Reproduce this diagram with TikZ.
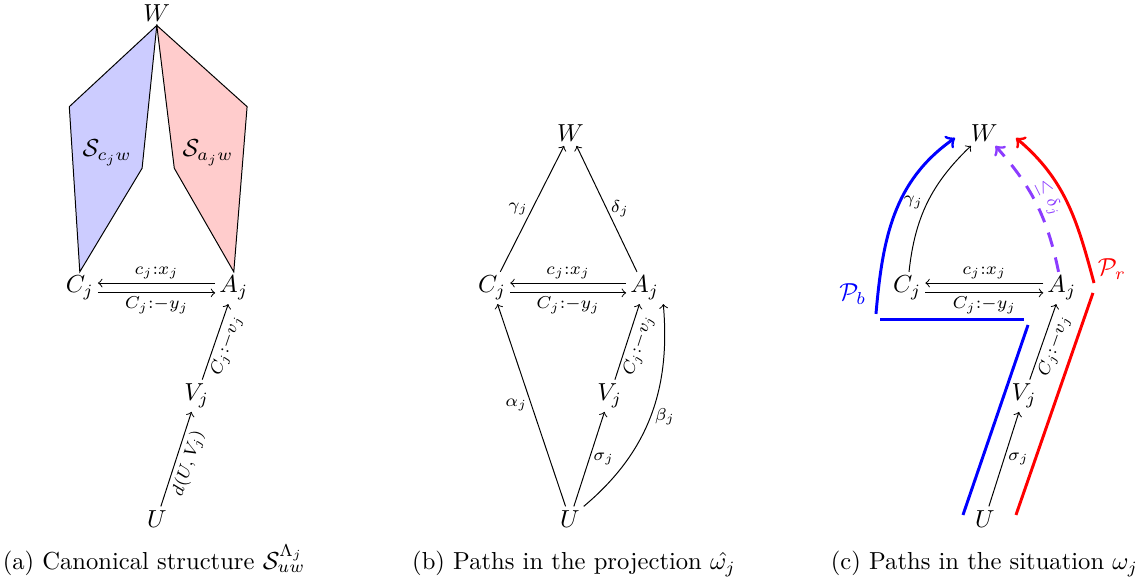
\documentclass[tikz,border=0pt]{standalone}
\usepackage{amsmath}
\usepackage{amssymb}
\usepackage[svgnames,dvipsnames]{xcolor}
\usetikzlibrary{arrows, positioning, calc}

\definecolor{boundviolet}{RGB}{140,60,255}

\begin{document}
\begin{tikzpicture}[
    vertex/.style={inner sep=1.5pt},
    lbl/.style={font=\scriptsize, inner sep=1.5pt},
    arrow/.style={->},
    region/.style={draw=black},
    bluepath/.style={very thick, blue},
    redpath/.style={very thick, red},
    boundpath/.style={->, very thick, boundviolet, dash pattern=on 6pt off 4.5pt},
    caption/.style={anchor=base}
]
    \useasboundingbox (0,0) rectangle (16.343,8.314);

    \node (Wa) [vertex] at (2.24,8.13) {$W$};
    \node (Ca) [vertex] at (1.14,4.2) {$C_j$};
    \node (Aa) [vertex] at (3.34,4.2) {$A_j$};
    \node (Va) [vertex] at (2.81,2.66) {$V_j$};
    \node (Ua) [vertex] at (2.24,0.9) {$U$};

    \draw[region, fill=blue!20] (Wa.south) -- (0.99,6.79) -- (Ca.north) -- (2.03,5.91) -- cycle;
    \draw[region, fill=red!20] (Wa.south) -- (3.53,6.79) -- (Aa.north) -- (2.49,5.91) -- cycle;
    \node (Sca) at (1.53,6.13) {$\mathcal{S}_{c_jw}$};
    \node (Saa) at (2.97,6.13) {$\mathcal{S}_{a_jw}$};

    \draw[arrow] ([yshift=2pt]Aa.west) -- node[lbl, above]{$c_j{:}x_j$} ([yshift=2pt]Ca.east);
    \draw[arrow] ([yshift=-2pt]Ca.east) -- node[lbl, below]{$C_j{:}{-}y_j$} ([yshift=-2pt]Aa.west);
    \draw[arrow] (Va) -- node[lbl, sloped, below]{$C_j{:}{-}v_j$} (Aa);
    \draw[arrow] (Ua) -- node[lbl, sloped, below]{$d(U,V_j)$} (Va);

    \node (capa) [caption] at (2.2,0.18) {(a) Canonical structure $\mathcal{S}_{uw}^{\Lambda_j}$};

    \node (Wb) [vertex] at (8.15,6.41) {$W$};
    \node (Cb) [vertex] at (7.03,4.2) {$C_j$};
    \node (Ab) [vertex] at (9.21,4.2) {$A_j$};
    \node (Vb) [vertex] at (8.71,2.66) {$V_j$};
    \node (Ub) [vertex] at (8.14,0.9) {$U$};

    \draw[arrow] ([yshift=2pt]Ab.west) -- node[lbl, above]{$c_j{:}x_j$} ([yshift=2pt]Cb.east);
    \draw[arrow] ([yshift=-2pt]Cb.east) -- node[lbl, below]{$C_j{:}{-}y_j$} ([yshift=-2pt]Ab.west);
    \draw[arrow] (Cb) -- node[lbl, left]{$\gamma_j$} (Wb);
    \draw[arrow] (Ab) -- node[lbl, right]{$\delta_j$} (Wb);
    \draw[arrow] (Ub) -- node[lbl, left]{$\alpha_j$} (Cb);
    \draw[arrow] (Ub) -- node[lbl, right]{$\sigma_j$} (Vb);
    \draw[arrow] (Vb) -- node[lbl, sloped, below]{$C_j{:}{-}v_j$} (Ab);
    \draw[arrow] (Ub.north east) to[out=40, in=-85] node[lbl, right]{$\beta_j$} (Ab.south east);

    \node (capb) [caption] at (8.2,0.18) {(b) Paths in the projection $\hat{\omega_j}$};

    \node (Wc) [vertex] at (14.06,6.41) {$W$};
    \node (Cc) [vertex] at (12.96,4.2) {$C_j$};
    \node (Ac) [vertex] at (15.17,4.2) {$A_j$};
    \node (Vc) [vertex] at (14.63,2.66) {$V_j$};
    \node (Uc) [vertex] at (14.07,0.9) {$U$};

    \draw[arrow] ([yshift=2pt]Ac.west) -- node[lbl, above]{$c_j{:}x_j$} ([yshift=2pt]Cc.east);
    \draw[arrow] ([yshift=-2pt]Cc.east) -- node[lbl, below]{$C_j{:}{-}y_j$} ([yshift=-2pt]Ac.west);
    \draw[arrow] (Cc) to[bend left=20] node[lbl, left]{$\gamma_j$} (Wc);
    \draw[boundpath] (Ac) to[bend right=15] node[lbl, sloped, above, text=boundviolet]{$\leq\delta_j$} (Wc);
    \draw[arrow] (Uc) -- node[lbl, right]{$\sigma_j$} (Vc);
    \draw[arrow] (Vc) -- node[lbl, sloped, below]{$C_j{:}{-}v_j$} (Ac);

    \coordinate (pb1) at (13.757,0.957);
    \coordinate (pb2) at (14.686,3.671);
    \coordinate (pb3) at (14.629,3.743);
    \coordinate (pb4) at (12.571,3.743);
    \coordinate (pb5) at (12.514,3.829);
    \coordinate (pb6) at (13.643,6.343);
    \draw[bluepath] (pb1) -- (pb2);
    \draw[bluepath] (pb3) -- (pb4);
    \draw[bluepath, ->] (pb5) to[out=85, in=-145] node[pos=0, above left, text=blue]{$\mathcal{P}_b$} (pb6);

    \coordinate (pr1) at (14.514,0.957);
    \coordinate (pr2) at (15.614,4.129);
    \coordinate (pr3) at (15.629,4.271);
    \coordinate (pr4) at (14.514,6.343);
    \draw[redpath] (pr1) -- (pr2);
    \draw[redpath, ->] (pr3) to[out=105, in=-40] node[pos=0, above right, inner sep=1pt, text=red]{$\mathcal{P}_r$} (pr4);

    \node (capc) [caption] at (14.064,0.18) {(c) Paths in the situation $\omega_j$};
\end{tikzpicture}
\end{document}
